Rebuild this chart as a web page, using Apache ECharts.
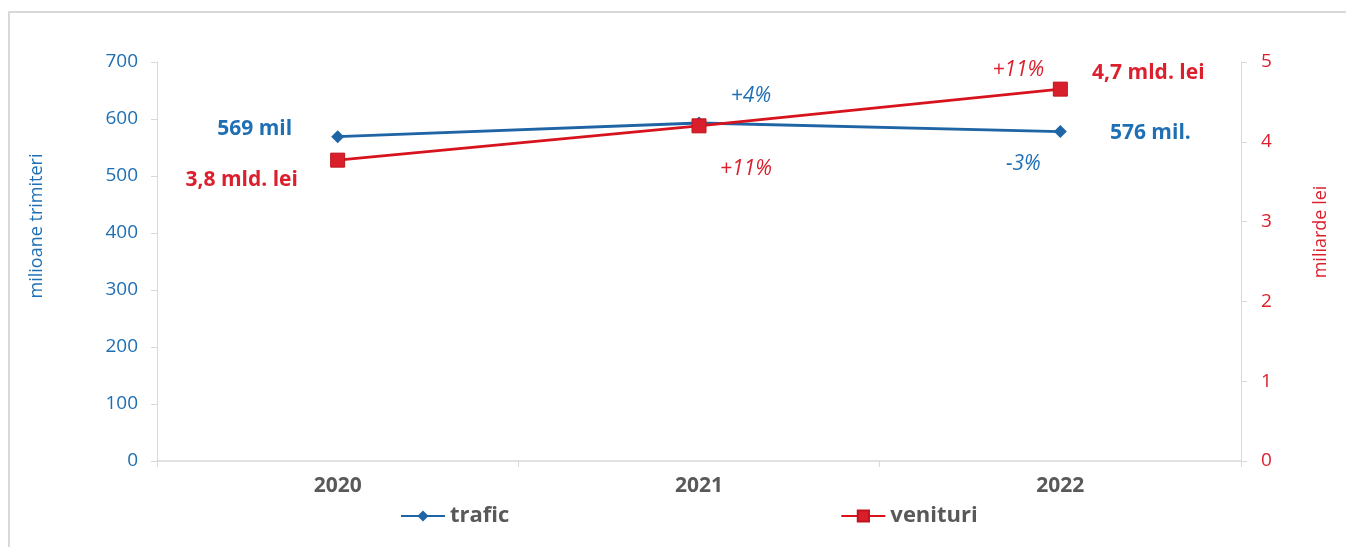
<!DOCTYPE html>
<html>
<head>
<meta charset="utf-8">
<script src="https://cdn.jsdelivr.net/npm/echarts@6/dist/echarts.min.js"></script>
<style>
  html, body { margin: 0; padding: 0; background: #fff; }
  #frame { position: absolute; left: 8px; top: 11px; width: 1400px; height: 600px;
           border-left: 2px solid #d9d9d9; border-top: 2px solid #d9d9d9; }
  #chart { position: absolute; left: 0; top: 0; width: 1346px; height: 547px; }
</style>
</head>
<body>
<div id="frame"></div>
<div id="chart"></div>
<script>
// data
var years = ['2020', '2021', '2022'];
var trafic = [569, 593, 578];          // milioane trimiteri
var venituri = [3.77, 4.2, 4.66];      // miliarde lei
var traficLabels = ['569 mil', '', '576 mil.'];
var venituriLabels = ['3,8 mld. lei', '', '4,7 mld. lei'];
var traficVar = ['', '+4%', '-3%'];
var venituriVar = ['', '+11%', '+11%'];

var blue = '#1f64a5';
var blueText = '#1f6fb4';
var red = '#d7141e';
var redText = '#dc1f2d';
var font = '"Open Sans", sans-serif';

// label offsets, relative to each point
var traficOff = [[-83, -8], null, [90, 1]];
var venituriOff = [[-96, 20], null, [88, -16]];
var traficVarOff = [null, [52, -27], [-37, 32]];
var venituriVarOff = [null, [47, 43], [-42, -19]];

function items(values, texts, offsets, style) {
    return values.map(function(v, i) {
        if (!texts[i]) return { value: v, label: { show: false } };
        return {
            value: v,
            label: Object.assign({ show: true, position: 'inside', offset: offsets[i], formatter: texts[i] }, style)
        };
    });
}

var chart = echarts.init(document.getElementById('chart'));
chart.setOption({
    animation: false,
    textStyle: { fontFamily: font },
    grid: { left: 157, right: 105, top: 62, bottom: 86 },
    legend: {
        data: ['trafic', 'venituri'],
        left: 395, top: 500,
        itemGap: 331, itemWidth: 44, itemHeight: 14,
        textStyle: { fontSize: 22, fontWeight: 'bold', color: '#595959', fontFamily: font }
    },
    xAxis: {
        type: 'category',
        data: years,
        boundaryGap: true,
        axisLine: { lineStyle: { color: '#d9d9d9', width: 1.5 } },
        axisTick: { show: true, length: 6, lineStyle: { color: '#d9d9d9' } },
        axisLabel: { fontSize: 21, fontWeight: 'bold', color: '#595959', margin: 15, fontFamily: font }
    },
    yAxis: [{
        type: 'value', min: 0, max: 700, interval: 100,
        axisLine: { show: true, lineStyle: { color: '#d9d9d9' } },
        axisTick: { show: true, length: 6, lineStyle: { color: '#d9d9d9' } },
        splitLine: { show: false },
        axisLabel: { fontSize: 19, color: blueText, margin: 19, fontFamily: font }
    }, {
        type: 'value', min: 0, max: 5, interval: 1,
        axisLine: { show: true, lineStyle: { color: '#d9d9d9' } },
        axisTick: { show: true, length: 6, lineStyle: { color: '#d9d9d9' } },
        splitLine: { show: false },
        axisLabel: { fontSize: 19, color: redText, margin: 20, fontFamily: font }
    }],
    graphic: [{
        type: 'text', x: 37, y: 226, rotation: Math.PI / 2,
        style: { text: 'milioane trimiteri', fill: blueText, font: '18px ' + font, align: 'center', verticalAlign: 'middle' }
    }, {
        type: 'text', x: 1321, y: 232, rotation: Math.PI / 2,
        style: { text: 'miliarde lei', fill: redText, font: '18px ' + font, align: 'center', verticalAlign: 'middle' }
    }],
    series: [{
        name: 'trafic', type: 'line', yAxisIndex: 0,
        data: items(trafic, traficLabels, traficOff, { fontSize: 21, fontWeight: 'bold', color: blueText, fontFamily: font }),
        symbol: 'diamond', symbolSize: 13,
        lineStyle: { color: blue, width: 2.8 },
        itemStyle: { color: blue },
        z: 3
    }, {
        name: 'venituri', type: 'line', yAxisIndex: 1,
        data: items(venituri, venituriLabels, venituriOff, { fontSize: 21, fontWeight: 'bold', color: redText, fontFamily: font }),
        symbol: 'rect', symbolSize: 14,
        lineStyle: { color: red, width: 2.8 },
        itemStyle: { color: '#d91f2b', borderColor: '#c0141c', borderWidth: 1 },
        z: 4
    }, {
        name: 'trafic var', type: 'line', yAxisIndex: 0, silent: true,
        data: items(trafic, traficVar, traficVarOff, { fontSize: 21, fontStyle: 'italic', color: blueText, fontFamily: font }),
        symbol: 'circle', symbolSize: 0.1,
        lineStyle: { width: 0, opacity: 0 },
        itemStyle: { color: 'rgba(0,0,0,0)' }
    }, {
        name: 'venituri var', type: 'line', yAxisIndex: 1, silent: true,
        data: items(venituri, venituriVar, venituriVarOff, { fontSize: 21, fontStyle: 'italic', color: redText, fontFamily: font }),
        symbol: 'circle', symbolSize: 0.1,
        lineStyle: { width: 0, opacity: 0 },
        itemStyle: { color: 'rgba(0,0,0,0)' }
    }]
});
</script>
</body>
</html>
